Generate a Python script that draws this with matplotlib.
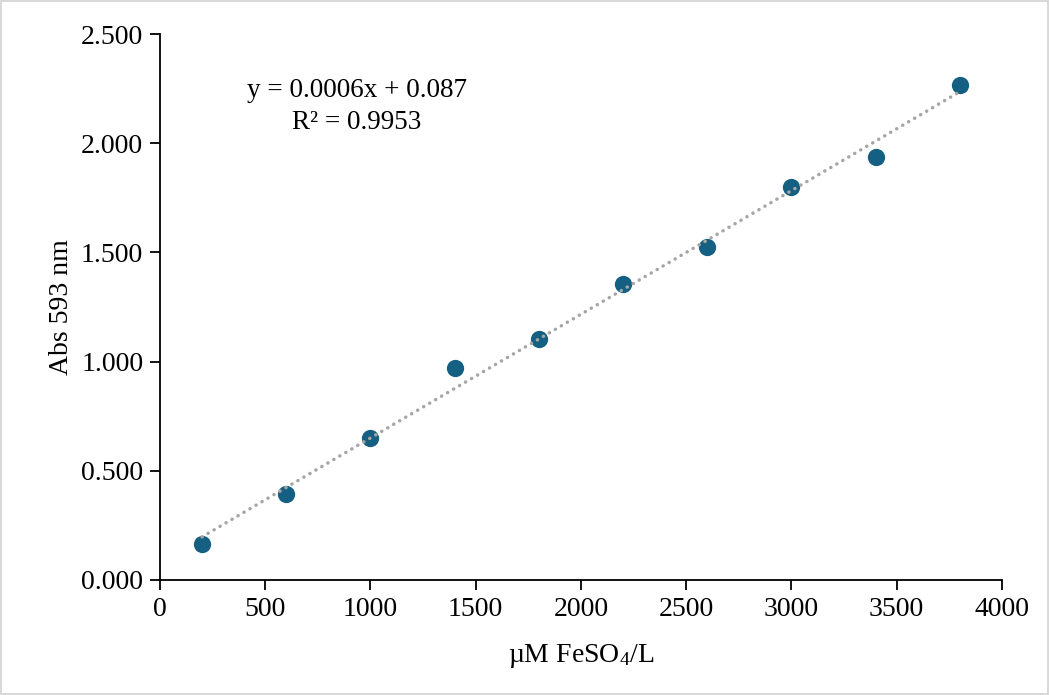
import numpy as np
import matplotlib
matplotlib.use("Agg")
import matplotlib.pyplot as plt
from matplotlib.ticker import FormatStrFormatter

# ── Data ──────────────────────────────────────────────────────────────────────
conc = [200, 600, 1000, 1400, 1800, 2200, 2600, 3000, 3400, 3800]
absorb = [0.165, 0.394, 0.650, 0.971, 1.103, 1.355, 1.525, 1.800, 1.937, 2.266]
eq_text = "y = 0.0006x + 0.087\nR² = 0.9953"

plt.rcParams["font.family"] = ["Liberation Serif", "DejaVu Serif"]
plt.rcParams["mathtext.fontset"] = "custom"
plt.rcParams["mathtext.rm"] = "Liberation Serif"
plt.rcParams["mathtext.it"] = "Liberation Serif:italic"

FS = 20

fig = plt.figure(figsize=(10.49, 6.95), dpi=100)
fig.patch.set_edgecolor("#d9d9d9")
fig.patch.set_linewidth(1.5)
ax = fig.add_axes([0.1525, 0.1655, 0.8025, 0.7855])

ax.scatter(conc, absorb, s=155, color="#156082", zorder=3, linewidths=0)

# linear trend line
slope, icpt = np.polyfit(conc, absorb, 1)
xs = np.array([conc[0], conc[-1]])
ax.plot(xs, slope * xs + icpt, color="#a6a6a6", lw=2.5,
        linestyle=(0, (0.05, 1.95)), dash_capstyle="round", zorder=4)

ax.text(0.234, 0.867, eq_text, transform=ax.transAxes, ha="center", va="center",
        fontsize=19.5, linespacing=1.4, multialignment="center")

ax.set_xlim(0, 4000)
ax.set_ylim(0, 2.5)
ax.set_xticks(range(0, 4001, 500))
ax.set_yticks(np.arange(0, 2.51, 0.5))
ax.yaxis.set_major_formatter(FormatStrFormatter("%.3f"))
ax.tick_params(labelsize=FS, direction="out", length=7, width=1.3, color="black", pad=5)

for side in ["top", "right"]:
    ax.spines[side].set_visible(False)
for side in ["left", "bottom"]:
    ax.spines[side].set_linewidth(1.3)

ax.set_xlabel("µM FeSO$_4$/L", fontsize=FS, labelpad=15)
ax.set_ylabel("Abs 593 nm", fontsize=FS, labelpad=5)

fig.savefig("out.png", dpi=100, edgecolor=fig.get_edgecolor())
